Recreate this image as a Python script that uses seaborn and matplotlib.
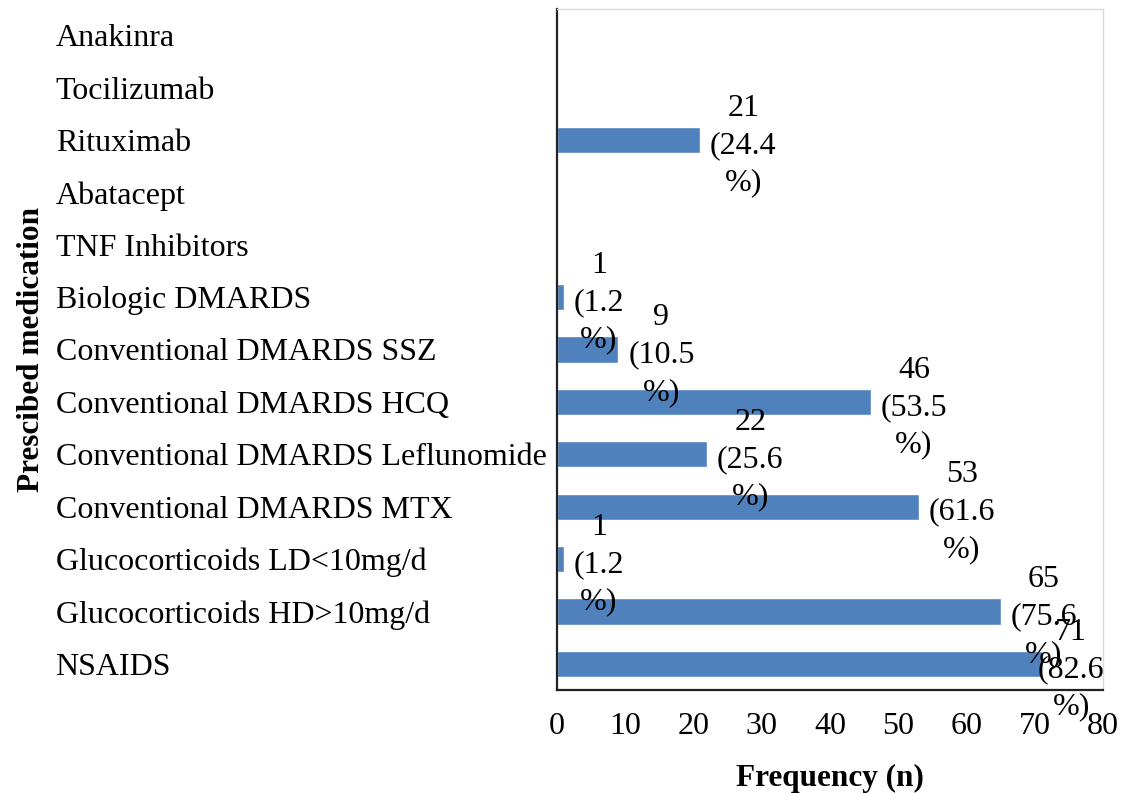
import matplotlib
matplotlib.use("Agg")
import matplotlib.pyplot as plt
from matplotlib.ticker import FixedLocator
import seaborn as sns
import pandas as pd

# Prescribed medication counts (n) and share of patients (%)
medications = [
    "Anakinra",
    "Tocilizumab",
    "Rituximab",
    "Abatacept",
    "TNF Inhibitors",
    "Biologic DMARDS",
    "Conventional DMARDS SSZ",
    "Conventional DMARDS HCQ",
    "Conventional DMARDS Leflunomide",
    "Conventional DMARDS MTX",
    "Glucocorticoids LD<10mg/d",
    "Glucocorticoids HD>10mg/d",
    "NSAIDS",
]
counts = [0, 0, 21, 0, 0, 1, 9, 46, 22, 53, 1, 65, 71]
percents = [None, None, 24.4, None, None, 1.2, 10.5, 53.5, 25.6, 61.6, 1.2, 75.6, 82.6]
x_ticks = [0, 10, 20, 30, 40, 50, 60, 70, 80]

df = pd.DataFrame({"Medication": medications, "Frequency": counts})

sns.set_style("white")
plt.rcParams["font.family"] = ["Liberation Serif", "DejaVu Serif"]
plt.rcParams["text.color"] = "black"
plt.rcParams["axes.labelcolor"] = "black"
plt.rcParams["xtick.color"] = "black"
plt.rcParams["ytick.color"] = "black"

fig = plt.figure(figsize=(11.25, 7.93), dpi=100)
ax = fig.add_axes([557 / 1125, 1 - 690 / 793, (1103 - 557) / 1125, (690 - 9) / 793])

sns.barplot(data=df, x="Frequency", y="Medication", orient="h",
            color="#4F81BD", saturation=1, width=0.5, ax=ax)

ax.set_xlim(x_ticks[0], x_ticks[-1])
ax.set_ylim(len(medications) - 0.5, -0.5)
ax.set_xticks(x_ticks)

# category names sit left-aligned far from the axis; tick marks at category boundaries
ax.set_yticks(range(len(medications)))
ax.set_yticklabels(medications)
ax.yaxis.set_minor_locator(FixedLocator([i - 0.5 for i in range(len(medications) + 1)]))
ax.tick_params(axis="y", which="major", length=0, pad=361, labelsize=23)
for lbl in ax.get_yticklabels():
    lbl.set_horizontalalignment("left")
ax.tick_params(axis="y", which="minor", length=6, width=1.3, color="#222222", direction="out")
ax.tick_params(axis="x", which="major", length=6, width=1.3, color="#222222",
               direction="out", pad=10, labelsize=23)

for side in ["left", "bottom"]:
    ax.spines[side].set_color("#222222")
    ax.spines[side].set_linewidth(1.6)
for side in ["top", "right"]:
    ax.spines[side].set_color("#d9d9d9")
    ax.spines[side].set_linewidth(1.0)

ax.set_xlabel("Frequency (n)", fontsize=22.5, fontweight="bold", labelpad=16)
ax.set_ylabel("Prescibed medication", fontsize=22.5, fontweight="bold")
ax.yaxis.set_label_coords(-0.935, 0.5)

# value labels: count and percentage at the bar end, pulled inside the frame if needed
xmax = x_ticks[-1]
for i, (n, p) in enumerate(zip(counts, percents)):
    if p is None:
        continue
    text = f"{n}\n({p}\n%)"
    if n > 70:
        ax.annotate(text, xy=(xmax, i), xytext=(1, -4), textcoords="offset points",
                    ha="right", va="center", multialignment="center",
                    fontsize=23, linespacing=1.38, annotation_clip=False)
    else:
        ax.annotate(text, xy=(n, i), xytext=(7, -4), textcoords="offset points",
                    ha="left", va="center", multialignment="center",
                    fontsize=23, linespacing=1.38, annotation_clip=False)

fig.savefig("out.png", dpi=100)
